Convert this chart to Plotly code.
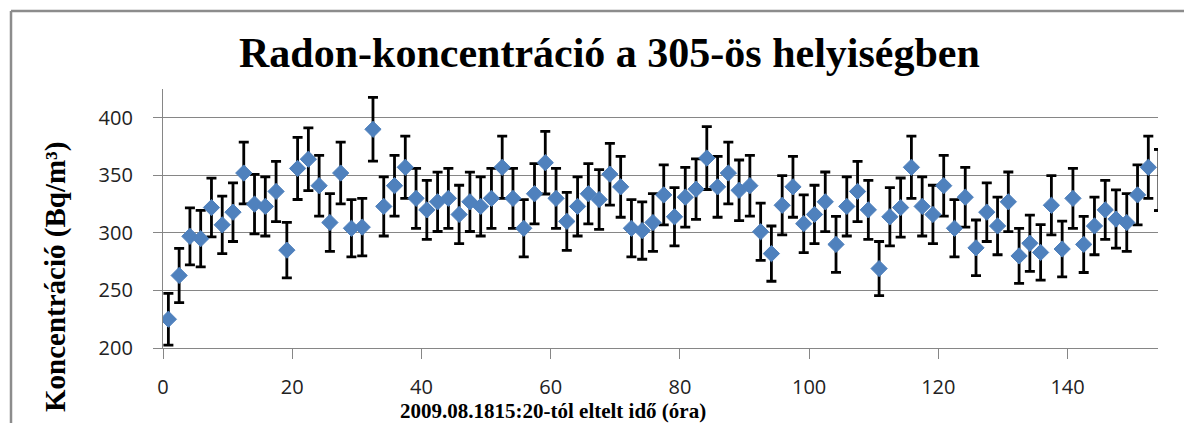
import plotly.graph_objects as go

# Elapsed time of each measurement (minutes after 2009.08.18 15:20)
minutes = [
    50, 150, 250, 350, 450, 550, 650, 750, 850, 950,
    1050, 1150, 1250, 1350, 1450, 1550, 1650, 1750, 1850, 1950,
    2050, 2150, 2250, 2350, 2450, 2550, 2650, 2750, 2850, 2950,
    3050, 3150, 3250, 3350, 3450, 3550, 3650, 3750, 3850, 3950,
    4050, 4150, 4250, 4350, 4450, 4550, 4650, 4750, 4850, 4950,
    5050, 5150, 5250, 5350, 5450, 5550, 5650, 5750, 5850, 5950,
    6050, 6150, 6250, 6350, 6450, 6550, 6650, 6750, 6850, 6950,
    7050, 7150, 7250, 7350, 7450, 7550, 7650, 7750, 7850, 7950,
    8050, 8150, 8250, 8350, 8450, 8550, 8650, 8750, 8850, 8950,
    9050, 9150, 9250, 9350,
]
hours = [m / 60 for m in minutes]

# Radon concentration (Bq/m3)
concentration = [
    225, 263, 297, 295, 322, 307, 318, 352, 325, 323,
    336, 285, 356, 364, 341, 309, 352, 304, 305, 390,
    323, 341, 357, 330, 320, 327, 330, 316, 327, 323,
    330, 357, 330, 304, 334, 361, 330, 310, 323, 334,
    329, 351, 340, 304, 302, 309, 333, 314, 331, 338,
    365, 340, 352, 337, 341, 301, 282, 324, 340, 308,
    316, 327, 290, 323, 336, 320, 269, 314, 322, 357,
    323, 316, 341, 304, 331, 287, 318, 306, 327, 280,
    291, 283, 324, 286, 330, 290, 306, 320, 312, 309,
    333, 357, 346, 315,
]

# Measurement uncertainty (Bq/m3)
uncertainty = [
    22.5, 23.5, 24.8, 24.6, 25.5, 25.0, 25.5, 26.8, 25.8, 25.7,
    26.2, 24.1, 27.0, 27.3, 26.4, 25.1, 26.8, 24.9, 25.0, 27.7,
    25.7, 26.4, 27.0, 26.0, 25.6, 25.8, 26.0, 25.4, 25.8, 25.7,
    26.0, 27.0, 26.0, 24.9, 26.1, 27.2, 26.0, 25.2, 25.7, 26.1,
    25.9, 26.8, 26.4, 24.9, 24.9, 25.1, 26.1, 25.3, 26.0, 26.3,
    27.3, 26.4, 26.8, 26.3, 26.4, 24.8, 24.0, 25.7, 26.4, 25.1,
    25.4, 25.9, 24.3, 25.7, 26.2, 25.6, 23.5, 25.3, 25.7, 27.0,
    25.7, 25.4, 26.4, 24.9, 26.0, 24.2, 25.5, 25.0, 25.9, 23.9,
    24.4, 24.1, 25.7, 24.2, 26.0, 24.4, 25.0, 25.6, 25.3, 25.1,
    26.1, 27.0, 26.6, 25.4,
]

x_ticks = [0, 20, 40, 60, 80, 100, 120, 140]
y_ticks = [200, 250, 300, 350, 400]

X_MAX = 154
Y_RANGE = [200, 425]

# plot-area geometry in pixels (used to place titles and the frame)
W, H = 1184, 423
L, R, T, B = 163, 26, 89, 75
PW, PH = W - L - R, H - T - B


def px(xpix):
    return (xpix - L) / PW


def py(ypix):
    return (H - B - ypix) / PH


BLUE = "#4F81BD"
GRID = "#868686"

fig = go.Figure()

fig.add_trace(go.Scatter(
    x=hours, y=concentration,
    mode="markers",
    marker=dict(symbol="diamond", size=12.5, color=BLUE,
                line=dict(color=BLUE, width=1)),
    error_y=dict(type="data", array=uncertainty, visible=True,
                 color="black", thickness=2.8, width=5),
    cliponaxis=True,
    showlegend=False,
))

# error bars of the readings past the end of the time axis stay visible
late = [i for i, h in enumerate(hours) if h > X_MAX]
fig.add_trace(go.Scatter(
    x=[hours[i] for i in late],
    y=[concentration[i] for i in late],
    mode="markers",
    marker=dict(symbol="diamond", size=12.5, color=BLUE, opacity=0),
    error_y=dict(type="data", array=[uncertainty[i] for i in late],
                 visible=True, color="black", thickness=2.8, width=5),
    cliponaxis=False,
    showlegend=False,
    hoverinfo="skip",
))

tick_font = dict(family="Open Sans, Liberation Sans, sans-serif", size=20, color="#222222")
serif_bold = "Liberation Serif, Times New Roman, serif"

fig.update_layout(
    width=W, height=H,
    margin=dict(l=L, r=R, t=T, b=B, pad=0),
    paper_bgcolor="white",
    plot_bgcolor="white",
    xaxis=dict(
        range=[0, X_MAX],
        tickvals=x_ticks,
        showgrid=False,
        zeroline=False,
        showline=True, linecolor=GRID, linewidth=1.3,
        ticks="outside", ticklen=10, tickcolor=GRID, tickwidth=1.3,
        tickfont=tick_font,
        ticklabelstandoff=11,
    ),
    yaxis=dict(
        range=Y_RANGE,
        tickvals=y_ticks,
        showgrid=True, gridcolor=GRID, gridwidth=1.3,
        zeroline=False,
        showline=True, linecolor=GRID, linewidth=1.3,
        ticks="outside", ticklen=9, tickcolor=GRID, tickwidth=1.3,
        tickfont=tick_font,
        ticklabelstandoff=16,
    ),
    shapes=[
        # chart frame (left and top edges)
        dict(type="line", xref="paper", yref="paper",
             x0=px(11), x1=px(11), y0=py(11), y1=py(H + 20),
             line=dict(color="#8C8C8C", width=2.5)),
        dict(type="line", xref="paper", yref="paper",
             x0=px(11), x1=px(W + 20), y0=py(11), y1=py(11),
             line=dict(color="#8C8C8C", width=2.5)),
    ],
    annotations=[
        dict(text="<b>Radon-koncentráció a 305-ös helyiségben</b>",
             xref="paper", yref="paper", x=px(609), y=py(53),
             xanchor="center", yanchor="middle", showarrow=False,
             font=dict(family=serif_bold, size=42, color="black")),
        dict(text="<b>2009.08.1815:20-tól eltelt idő (óra)</b>",
             xref="paper", yref="paper", x=px(553), y=py(410.5),
             xanchor="center", yanchor="middle", showarrow=False,
             font=dict(family=serif_bold, size=21, color="black")),
        dict(text="<b>Koncentráció (Bq/m³)</b>",
             xref="paper", yref="paper", x=px(55), y=py(277),
             xanchor="center", yanchor="middle", showarrow=False,
             textangle=-90,
             font=dict(family=serif_bold, size=29, color="black")),
    ],
)

fig.write_html("out.html")
